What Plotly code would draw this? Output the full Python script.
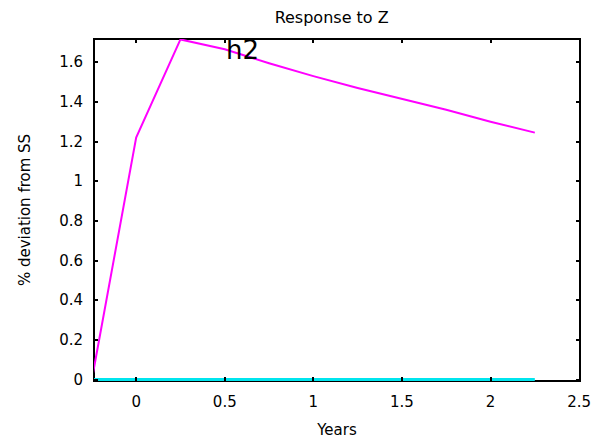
import plotly.graph_objects as go

# Impulse response, quarterly steps in years
years = [-0.25, 0.0, 0.25, 0.5, 0.75, 1.0, 1.25, 1.5, 1.75, 2.0, 2.25]
h2 = [0.0, 1.22, 1.715, 1.665, 1.595, 1.53, 1.47, 1.415, 1.36, 1.30, 1.245]
baseline = [0.0] * len(years)

x_ticks = [0, 0.5, 1, 1.5, 2, 2.5]
y_ticks = [0, 0.2, 0.4, 0.6, 0.8, 1, 1.2, 1.4, 1.6]

font_family = "DejaVu Sans, Verdana, sans-serif"
black = "black"

fig = go.Figure()
fig.add_trace(go.Scatter(x=years, y=h2, mode="lines",
                         line=dict(color="#ff00ff", width=2), showlegend=False))
fig.add_trace(go.Scatter(x=years, y=baseline, mode="lines",
                         line=dict(color="#00e5ee", width=3), showlegend=False))

fig.add_annotation(x=0.6, y=1.66, text="h2", showarrow=False,
                   font=dict(size=26, color=black, family=font_family))

# frame around the plotting area, kept beneath the traces
fig.add_shape(type="rect", xref="paper", yref="paper", x0=0, x1=1, y0=0, y1=1,
              line=dict(color=black, width=2), layer="below")

axis_common = dict(
    showgrid=False, zeroline=False, showline=False,
    mirror="allticks", ticks="inside", ticklen=4, tickwidth=1.5,
    tickcolor=black,
    tickfont=dict(size=15, color=black, family=font_family),
)

fig.update_layout(
    width=603, height=448,
    margin=dict(l=94, r=17, t=39, b=64),
    paper_bgcolor="white", plot_bgcolor="white",
    title=dict(text="Response to Z", x=0.55, xanchor="center", y=0.962,
               yanchor="middle",
               font=dict(size=16, color=black, family=font_family)),
    xaxis=dict(range=[-0.238, 2.505], tickvals=x_ticks,
               ticktext=[f"{v:g}" for v in x_ticks], ticklabelstandoff=10,
               title=dict(text="Years", standoff=14,
                          font=dict(size=15, color=black, family=font_family)),
               **axis_common),
    yaxis=dict(range=[-0.0075, 1.717], tickvals=y_ticks,
               ticktext=[f"{v:g}" for v in y_ticks], ticklabelstandoff=10,
               title=dict(text="% deviation from SS", standoff=24,
                          font=dict(size=15, color=black, family=font_family)),
               **axis_common),
)

fig.write_html("out.html")
